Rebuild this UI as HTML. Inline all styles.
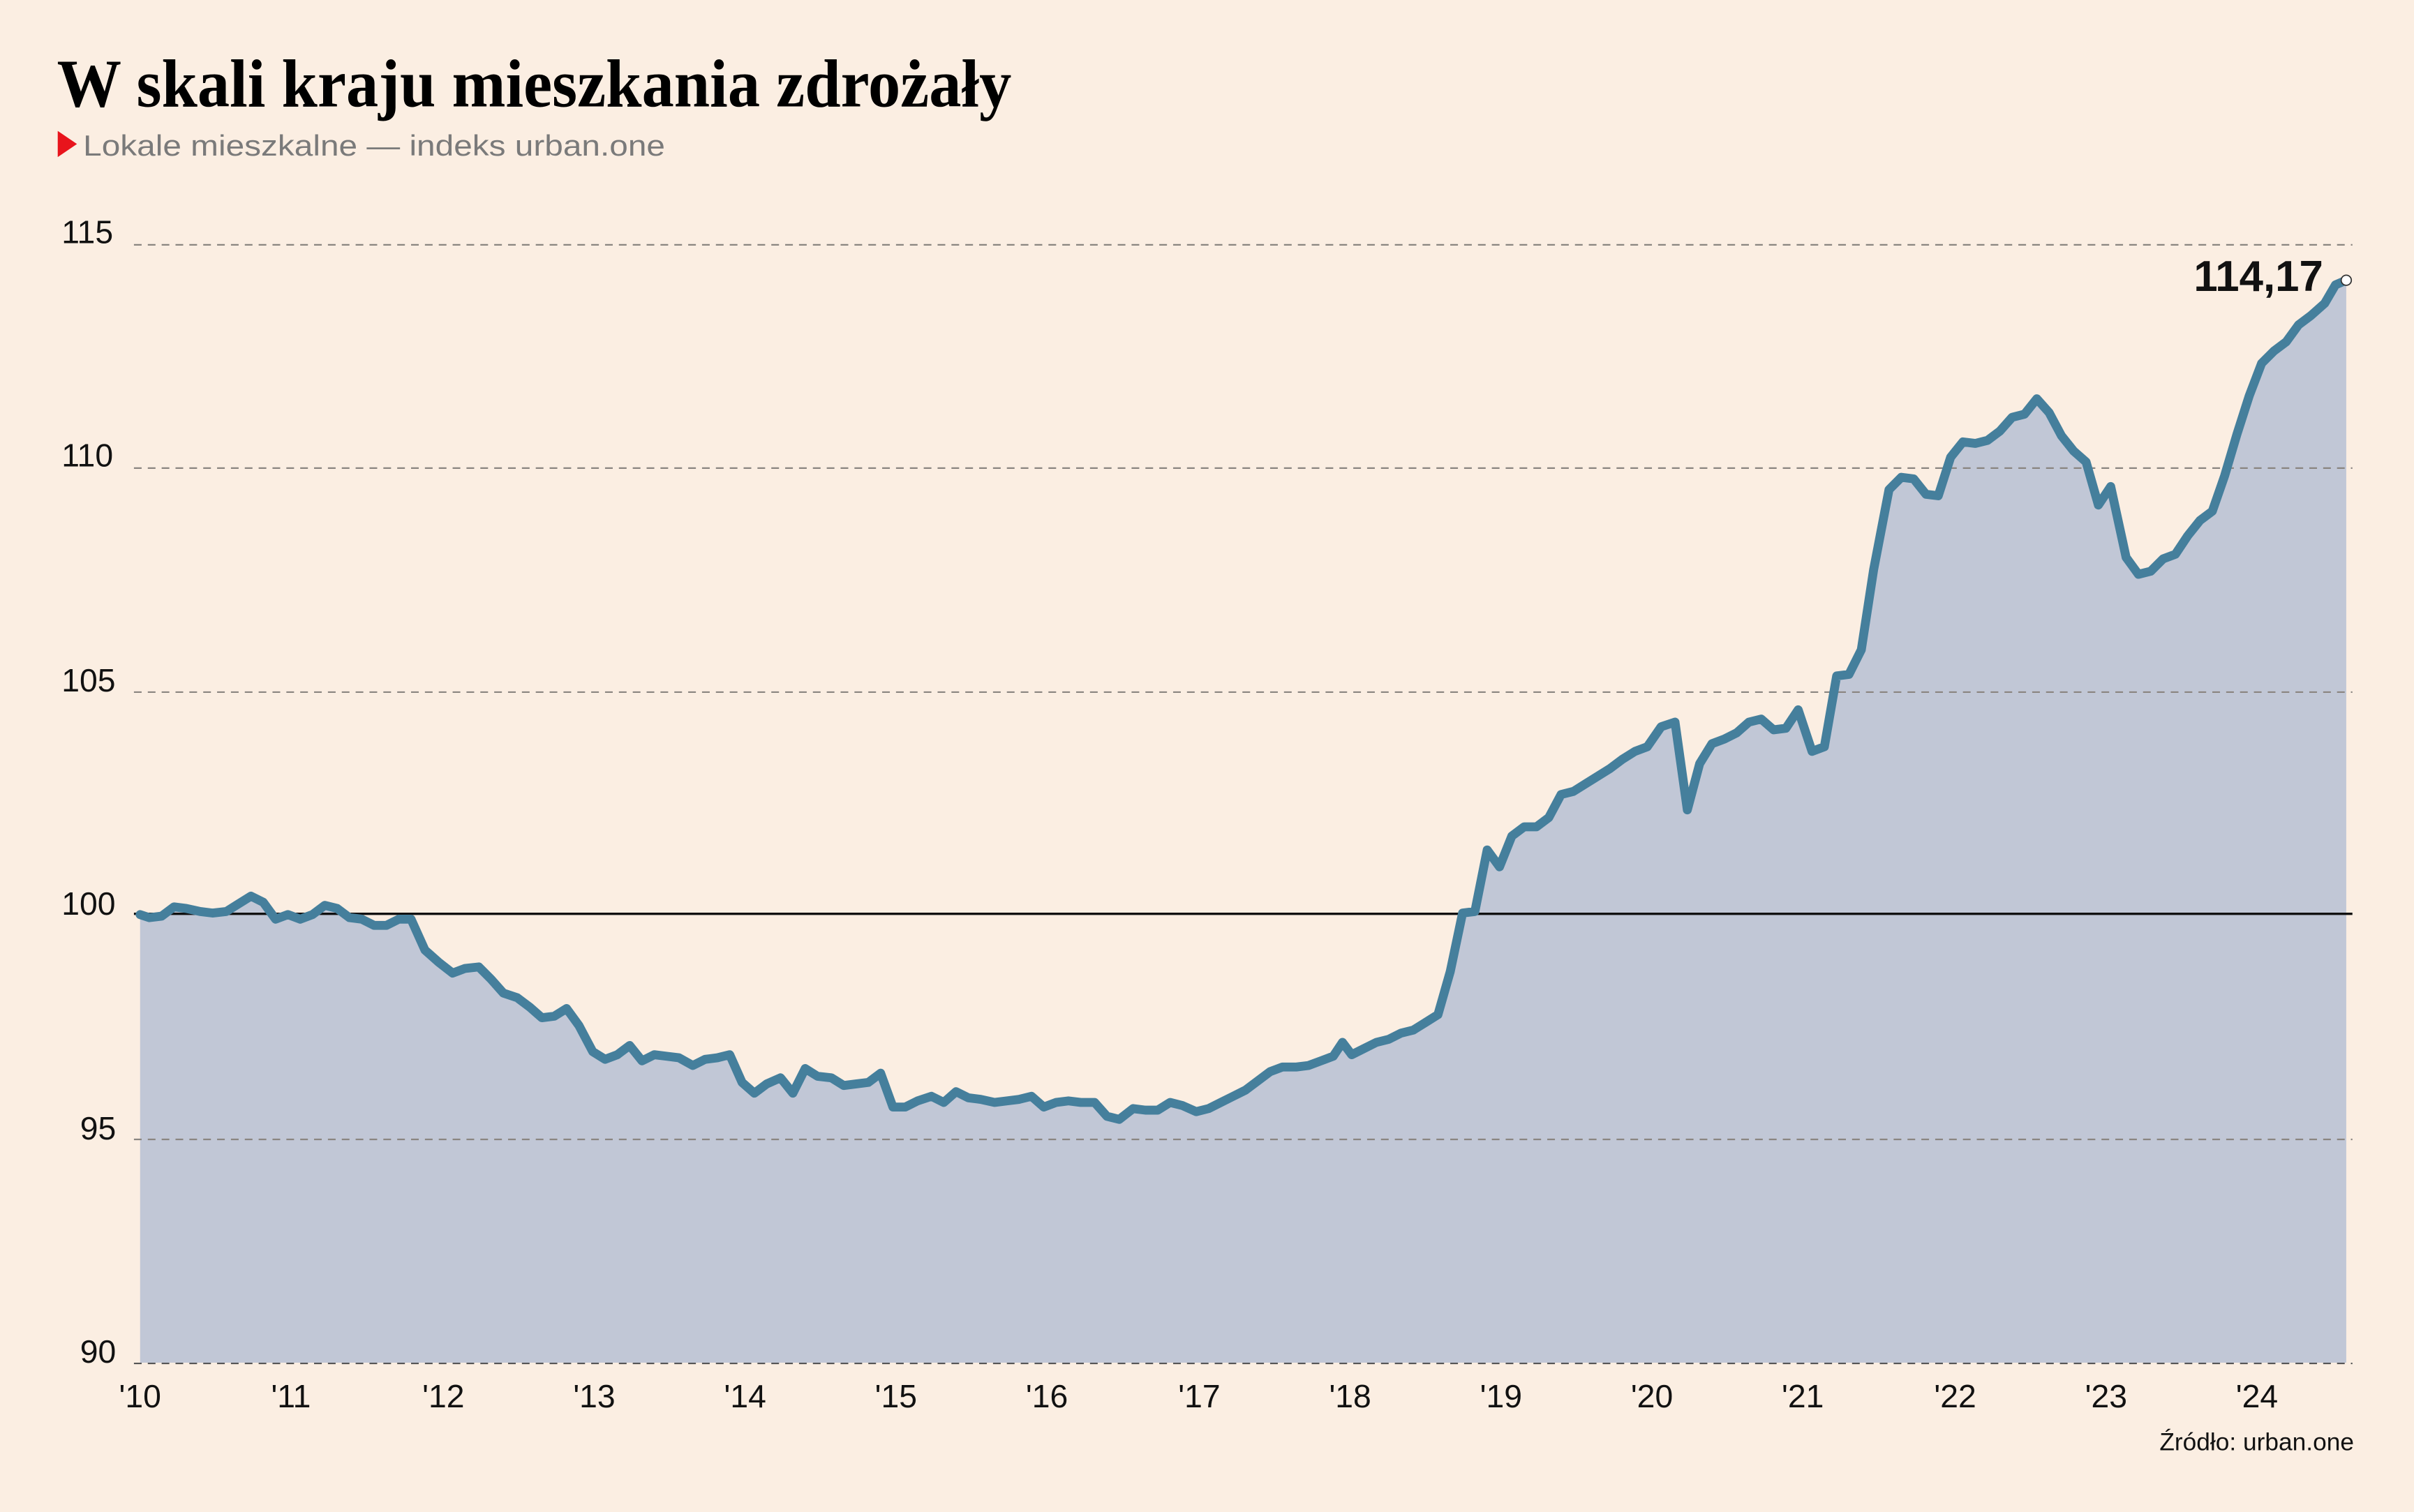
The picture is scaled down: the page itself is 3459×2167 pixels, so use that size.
<!DOCTYPE html>
<html><head><meta charset="utf-8"><style>
html,body{margin:0;padding:0;background:#fbeee2;}
svg{display:block;}
</style></head><body>
<svg width="3459" height="2167" viewBox="0 0 1568 982" preserveAspectRatio="none" xmlns="http://www.w3.org/2000/svg">
<rect width="1568" height="982" fill="#fbeee2"/>
<text x="37" y="69" font-family="Liberation Serif, serif" font-weight="bold" font-size="44" textLength="620" lengthAdjust="spacingAndGlyphs" fill="#000">W skali kraju mieszkania zdrożały</text>
<polygon points="37.5,85 50,93.5 37.5,102" fill="#e8141c"/>
<text x="54" y="101" font-family="Liberation Sans, sans-serif" font-size="19" textLength="378" lengthAdjust="spacingAndGlyphs" fill="#7a7a7a">Lokale mieszkalne — indeks urban.one</text>
<g font-family="Liberation Sans, sans-serif" font-size="21" fill="#111">
<text x="40" y="158">115</text><text x="40" y="303">110</text><text x="40" y="449">105</text>
<text x="40" y="594">100</text><text x="52" y="740">95</text><text x="52" y="885">90</text>
</g>
<path d="M91,885 L91,594 L97,596 L105,595 L113,589 L121,590 L130,592 L138,593 L147,592 L155,587 L163,582 L171,586 L179,597 L187,594 L195,597 L203,594 L211,588 L219,590 L227,596 L235,597 L243,601 L251,601 L259,597 L267,597 L276,617 L285,625 L294,632 L302,629 L311,628 L319,636 L327,645 L336,648 L344,654 L352,661 L360,660 L368,655 L376,666 L385,683 L393,688 L401,685 L409,679 L417,689 L425,685 L433,686 L441,687 L450,692 L458,688 L466,687 L474,685 L482,703 L490,710 L498,704 L507,700 L515,710 L523,694 L531,699 L540,700 L548,705 L556,704 L564,703 L572,697 L580,719 L588,719 L596,715 L605,712 L613,716 L621,709 L629,713 L637,714 L646,716 L654,715 L662,714 L670,712 L678,719 L686,716 L694,715 L702,716 L711,716 L719,725 L727,727 L736,720 L744,721 L752,721 L760,716 L768,718 L777,722 L785,720 L793,716 L801,712 L809,708 L817,702 L825,696 L833,693 L842,693 L850,692 L858,689 L866,686 L872,677 L878,685 L886,681 L894,677 L902,675 L910,671 L918,669 L926,664 L934,659 L942,631 L950,593 L958,592 L966,552 L974,563 L982,543 L990,537 L998,537 L1006,531 L1014,516 L1022,514 L1030,509 L1038,504 L1046,499 L1054,493 L1062,488 L1070,485 L1079,472 L1088,469 L1096,526 L1104,496 L1112,483 L1120,480 L1128,476 L1136,469 L1144,467 L1152,474 L1160,473 L1168,461 L1177,488 L1185,485 L1193,439 L1201,438 L1209,422 L1217,370 L1227,318 L1235,310 L1243,311 L1251,321 L1259,322 L1267,297 L1275,287 L1283,288 L1291,286 L1299,280 L1307,271 L1315,269 L1323,259 L1331,268 L1339,283 L1347,293 L1355,300 L1363,328 L1371,316 L1381,362 L1389,373 L1397,371 L1405,363 L1413,360 L1421,348 L1429,338 L1437,332 L1445,309 L1453,282 L1461,257 L1469,236 L1477,228 L1485,222 L1493,211 L1501,205 L1510,197 L1517,185 L1524,182 L1524,885 Z" fill="#c1c7d6"/>
<g stroke="#8a8580" stroke-width="1" stroke-dasharray="5,4" fill="none">
<line x1="87" y1="159" x2="1528" y2="159"/><line x1="87" y1="304" x2="1528" y2="304"/>
<line x1="87" y1="449.5" x2="1528" y2="449.5"/><line x1="87" y1="740" x2="1528" y2="740"/>
<line x1="87" y1="885.5" x2="1528" y2="885.5" stroke="#555"/>
</g>
<line x1="87" y1="593.5" x2="1528" y2="593.5" stroke="#111" stroke-width="1.5"/>
<polyline fill="none" stroke="#457f9c" stroke-width="5.8" stroke-linejoin="round" stroke-linecap="round" points="91,594 97,596 105,595 113,589 121,590 130,592 138,593 147,592 155,587 163,582 171,586 179,597 187,594 195,597 203,594 211,588 219,590 227,596 235,597 243,601 251,601 259,597 267,597 276,617 285,625 294,632 302,629 311,628 319,636 327,645 336,648 344,654 352,661 360,660 368,655 376,666 385,683 393,688 401,685 409,679 417,689 425,685 433,686 441,687 450,692 458,688 466,687 474,685 482,703 490,710 498,704 507,700 515,710 523,694 531,699 540,700 548,705 556,704 564,703 572,697 580,719 588,719 596,715 605,712 613,716 621,709 629,713 637,714 646,716 654,715 662,714 670,712 678,719 686,716 694,715 702,716 711,716 719,725 727,727 736,720 744,721 752,721 760,716 768,718 777,722 785,720 793,716 801,712 809,708 817,702 825,696 833,693 842,693 850,692 858,689 866,686 872,677 878,685 886,681 894,677 902,675 910,671 918,669 926,664 934,659 942,631 950,593 958,592 966,552 974,563 982,543 990,537 998,537 1006,531 1014,516 1022,514 1030,509 1038,504 1046,499 1054,493 1062,488 1070,485 1079,472 1088,469 1096,526 1104,496 1112,483 1120,480 1128,476 1136,469 1144,467 1152,474 1160,473 1168,461 1177,488 1185,485 1193,439 1201,438 1209,422 1217,370 1227,318 1235,310 1243,311 1251,321 1259,322 1267,297 1275,287 1283,288 1291,286 1299,280 1307,271 1315,269 1323,259 1331,268 1339,283 1347,293 1355,300 1363,328 1371,316 1381,362 1389,373 1397,371 1405,363 1413,360 1421,348 1429,338 1437,332 1445,309 1453,282 1461,257 1469,236 1477,228 1485,222 1493,211 1501,205 1510,197 1517,185 1524,182"/>
<circle cx="1524" cy="182" r="3.3" fill="#fff" stroke="#333" stroke-width="0.8"/>
<text x="1509" y="189" text-anchor="end" font-family="Liberation Sans, sans-serif" font-weight="bold" font-size="28" fill="#111">114,17</text>
<g font-family="Liberation Sans, sans-serif" font-size="21" fill="#111" text-anchor="middle">
<text x="91" y="914">'10</text><text x="189" y="914">'11</text><text x="288" y="914">'12</text><text x="386" y="914">'13</text>
<text x="484" y="914">'14</text><text x="582" y="914">'15</text><text x="680" y="914">'16</text><text x="779" y="914">'17</text>
<text x="877" y="914">'18</text><text x="975" y="914">'19</text><text x="1073" y="914">'20</text><text x="1171" y="914">'21</text>
<text x="1270" y="914">'22</text><text x="1368" y="914">'23</text><text x="1466" y="914">'24</text>
</g>
<text x="1529" y="942" text-anchor="end" font-family="Liberation Sans, sans-serif" font-size="16" fill="#111">Źródło: urban.one</text>
</svg>
</body></html>
